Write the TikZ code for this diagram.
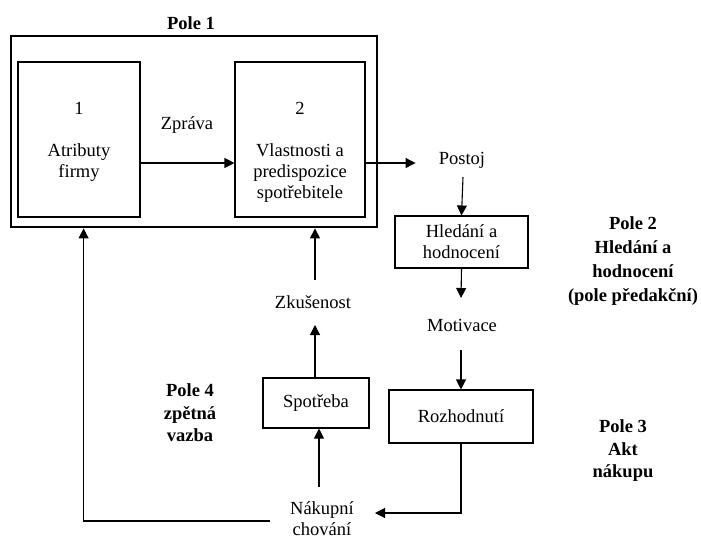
\documentclass[tikz,border=0pt]{standalone}
\usepackage{fontspec}
\setmainfont{Liberation Serif}
\usetikzlibrary{arrows.meta,calc}
\begin{document}
\begin{tikzpicture}[x=1pt,y=-1pt,
  every node/.style={font=\fontsize{18.5}{21}\selectfont, inner sep=0pt, align=center},
  box/.style={draw, line width=1.1pt, minimum width=#1, inner sep=0pt},
  lbl/.style={font=\fontsize{18.5}{22.5}\selectfont\bfseries},
  arr/.style={line width=1.1pt, -{Triangle[length=10pt,width=10pt]}}]
\useasboundingbox (0,0) rectangle (701,539);
% Pole 1 frame
\node[draw, line width=2.8pt, minimum width=366pt, minimum height=191pt] (outer) at (194,131.5) {};
\node[lbl] (p1) at (191,23) {Pole 1};
% inner boxes
\node[box=122pt, minimum height=155pt] (b1) at (79,139.5) {};
\node[box=130pt, minimum height=155pt] (b2) at (300,139.5) {};
\node (n1) at (79,108) {1};
\node (t1) at (79,162.5) {Atributy\\firmy};
\node (n2) at (300,108) {2};
\node (t2) at (300,173.5) {Vlastnosti a\\predispozice\\spotřebitele};
\node (zpr) at (187,125) {Zpráva};
% right column
\node (pst) at (462,160) {Postoj};
\node[box=133pt, minimum height=52pt] (hl) at (461.5,242) {Hledání a\\hodnocení};
\node (mot) at (462,325) {Motivace};
\node[box=144pt, minimum height=53pt] (rz) at (461,416.5) {Rozhodnutí};
% middle column
\node (nak) at (322,518.5) {Nákupní\\chování};
\node[box=106pt, minimum height=50pt] (sp) at (316,403) {Spotřeba};
\node (zk) at (313,302) {Zkušenost};
% field labels
\node[lbl, font=\fontsize{18.5}{24}\selectfont\bfseries] (p2) at (633,261) {Pole 2\\Hledání a\\hodnocení\\(pole předakční)};
\node[lbl] (p3) at (623,451) {Pole 3\\Akt\\nákupu};
\node[lbl] (p4) at (190,413) {Pole 4\\zpětná\\vazba};
% connectors
\draw[arr] ($(b1.east)+(0,23.5)$) -- ($(b2.west)+(0,23.5)$);
\draw[arr] ($(b2.east)+(0,23.5)$) -- ++(50,0);
\draw[arr] ($(pst.center)+(1,17)$) -- (hl.north);
\draw[arr] (hl.south) -- ($(mot.center)+(-1,-27)$);
\draw[arr] ($(mot.center)+(-1,25)$) -- (rz.north);
\coordinate (nakin) at ($(nak.center)+(53,-5.5)$);
\draw[arr] (rz.south) |- (nakin);
\draw[arr] ($(nak.center)+(-3,-31.5)$) -- ($(sp.south)+(3,0)$);
\draw[arr] ($(sp.north)+(-1,0)$) -- ($(zk.center)+(2,23)$);
\coordinate (zkup) at ($(zk.center)+(2,-22)$);
\draw[arr] (zkup) -- (zkup |- outer.south);
\coordinate (fb) at ($(outer.south west)+(74,0)$);
\draw[arr] ($(nak.center)+(-52,2.5)$) -| (fb);
\end{tikzpicture}
\end{document}
